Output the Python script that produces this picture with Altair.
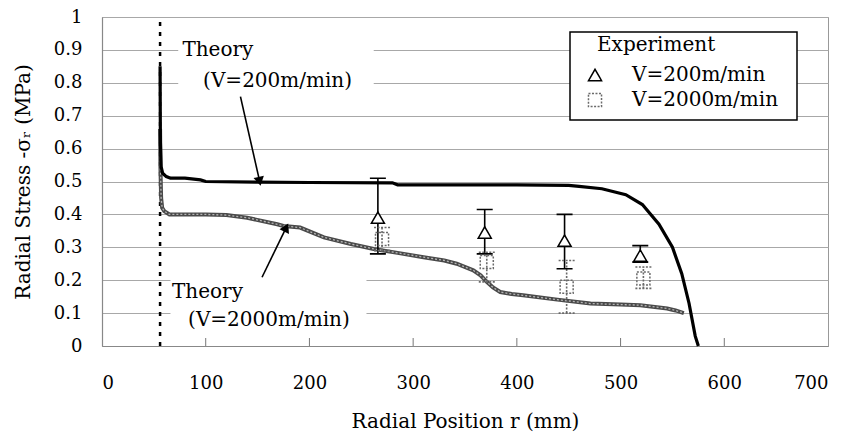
import altair as alt
import pandas as pd

# ---------------- data ----------------
# Theory curve, V=200 m/min (black)
t200_r = [56, 56.3, 57, 58.5, 62, 66, 80, 95, 100, 150, 200, 280, 285, 350, 400, 450,
          460, 482, 505, 521, 537, 550, 559, 566, 572, 575]
t200_s = [0.85, 0.62, 0.545, 0.525, 0.515, 0.51, 0.51, 0.505, 0.50, 0.498, 0.497, 0.496, 0.49,
          0.49, 0.49, 0.488, 0.485, 0.478, 0.46, 0.43, 0.37, 0.30, 0.22, 0.13, 0.03, 0.0]

# Theory curve, V=2000 m/min (grey)
t2000_r = [56, 56.3, 57, 58, 60, 65, 80, 100, 120, 140, 169, 175, 191, 214, 240, 262, 285, 310,
           330, 342, 358, 365, 371, 377, 384, 395, 406, 439, 471, 500, 519, 545, 553, 561]
t2000_s = [0.66, 0.55, 0.45, 0.42, 0.41, 0.40, 0.40, 0.40, 0.398, 0.39, 0.37, 0.365, 0.36, 0.33,
           0.31, 0.295, 0.283, 0.27, 0.26, 0.25, 0.23, 0.215, 0.195, 0.178, 0.164, 0.158, 0.154,
           0.141, 0.129, 0.126, 0.124, 0.114, 0.108, 0.10]

# Experiments
series_names = ["V=200m/min", "V=2000m/min"]
exp_series = ["V=200m/min"] * 4 + ["V=2000m/min"] * 4
exp_r = [266, 369, 446, 519, 270, 371, 448, 522]
exp_s = [0.39, 0.345, 0.32, 0.275, 0.325, 0.255, 0.18, 0.205]
exp_hi = [0.51, 0.415, 0.40, 0.305, 0.36, 0.285, 0.26, 0.24]
exp_lo = [0.28, 0.28, 0.235, 0.255, 0.29, 0.195, 0.10, 0.175]

x_ticks = [0, 100, 200, 300, 400, 500, 600, 700]
y_ticks = [0, 0.1, 0.2, 0.3, 0.4, 0.5, 0.6, 0.7, 0.8, 0.9, 1.0]
inner_radius = [56]

# annotations
ann_text = ["Theory", "(V=200m/min)", "Theory", "(V=2000m/min)"]
ann_r = [77.5, 97.5, 67.5, 83]
ann_s = [0.90, 0.805, 0.163, 0.079]

box_r1 = [73.5, 66]
box_r2 = [262, 255]
box_s1 = [0.75, 0.03]
box_s2 = [0.945, 0.235]

arrow_tail_r = [133.5, 154.3]
arrow_tail_s = [0.758, 0.209]
arrow_tip_r = [151.7, 177.0]
arrow_tip_s = [0.505, 0.356]
arrow_angle = [168, 26]

legend_title = ["Experiment"]

FONT = "DejaVu Serif"

# ---------------- frames ----------------
df200 = pd.DataFrame({"r": t200_r, "s": t200_s})
df2000 = pd.DataFrame({"r": t2000_r, "s": t2000_s})
dfexp = pd.DataFrame({"series": exp_series, "r": exp_r, "s": exp_s, "hi": exp_hi, "lo": exp_lo})
dfticks = pd.DataFrame({"r": x_ticks[1:-1]})
dfinner = pd.DataFrame({"r": inner_radius, "s0": [0.0], "s1": [1.0]})
dfann = pd.DataFrame({"t": ann_text, "r": ann_r, "s": ann_s})
dfbox = pd.DataFrame({"r1": box_r1, "r2": box_r2, "s1": box_s1, "s2": box_s2})
dfarrow = pd.DataFrame({"r": arrow_tail_r, "s": arrow_tail_s, "r2": arrow_tip_r,
                        "s2": arrow_tip_s, "a": arrow_angle})
dfone = pd.DataFrame({"t": legend_title})

xscale = alt.Scale(domain=[0, 700], nice=False, zero=False)
yscale = alt.Scale(domain=[0, 1], nice=False, zero=False)
xaxis = alt.Axis(values=x_ticks, grid=False, ticks=False, labelPadding=28, titlePadding=19,
                 title="Radial Position r  (mm)")
yaxis = alt.Axis(values=y_ticks, grid=True, ticks=False, format="~g", labelPadding=20,
                 titlePadding=20, title="Radial Stress -σᵣ (MPa)")


def X(f="r"):
    return alt.X(f + ":Q", scale=xscale, axis=xaxis)


def Y(f="s"):
    return alt.Y(f + ":Q", scale=yscale, axis=yaxis)


col_scale = alt.Scale(domain=series_names, range=["black", "#6a6a6a"])
dash_scale = alt.Scale(domain=series_names, range=[[10, 0], [2, 1.5]])
shape_scale = alt.Scale(domain=series_names, range=["triangle-up", "square"])
fill_scale = alt.Scale(domain=series_names, range=["white", "transparent"])

leg = alt.Legend(title=None, orient="none", legendX=483, legendY=48,
                 labelFont=FONT, labelFontSize=20, labelColor="black", labelOffset=27,
                 symbolSize=170, symbolStrokeWidth=1.5,
                 rowPadding=5, padding=0)

boxes = alt.Chart(dfbox).mark_rect(fill="white", stroke=None).encode(
    x=X("r1"), x2="r2:Q", y=Y("s1"), y2="s2:Q")

legend_box = alt.Chart(dfone).mark_rect(fill="white", stroke="black", strokeWidth=1.5).encode(
    x=alt.value(468), x2=alt.value(695), y=alt.value(15), y2=alt.value(103))
legend_head = alt.Chart(dfone).mark_text(align="left", baseline="middle", font=FONT,
                                         fontSize=20, color="black").encode(
    x=alt.value(495), y=alt.value(28), text="t:N")

inner = alt.Chart(dfinner).mark_rule(color="black", strokeWidth=2.5, strokeDash=[4, 6]).encode(
    x=X("r"), y=Y("s0"), y2="s1:Q")

ticks = alt.Chart(dfticks).mark_rule(color="#777", strokeWidth=1).encode(
    x=X("r"), y=alt.value(329), y2=alt.value(321))

line200 = alt.Chart(df200).mark_line(color="black", strokeWidth=3.2).encode(x=X(), y=Y())
line2000a = alt.Chart(df2000).mark_line(color="#4a4a4a", strokeWidth=4).encode(x=X(), y=Y())
line2000b = alt.Chart(df2000).mark_line(color="#b5b5b5", strokeWidth=1.3,
                                        strokeDash=[2, 2]).encode(x=X(), y=Y())


def enc_series():
    return dict(
        stroke=alt.Stroke("series:N", scale=col_scale, legend=leg),
        strokeDash=alt.StrokeDash("series:N", scale=dash_scale, legend=leg),
    )


errbars = alt.Chart(dfexp).mark_rule(strokeWidth=1.6).encode(
    x=X(), y=Y("lo"), y2="hi:Q", **enc_series())
cap_hi = alt.Chart(dfexp).mark_rule(strokeWidth=1.6, xOffset=-8, x2Offset=8).encode(
    x=X(), x2="r:Q", y=Y("hi"), **enc_series())
cap_lo = alt.Chart(dfexp).mark_rule(strokeWidth=1.6, xOffset=-8, x2Offset=8).encode(
    x=X(), x2="r:Q", y=Y("lo"), **enc_series())

markers = alt.Chart(dfexp).mark_point(filled=False, strokeWidth=1.5, size=170,
                                      opacity=1).encode(
    x=X(), y=Y(),
    shape=alt.Shape("series:N", scale=shape_scale, legend=leg),
    fill=alt.Fill("series:N", scale=fill_scale, legend=leg),
    **enc_series())

texts = alt.Chart(dfann).mark_text(align="left", baseline="middle", font=FONT, fontSize=20,
                                   color="black").encode(x=X(), y=Y(), text="t:N")

arrow_shaft = alt.Chart(dfarrow).mark_rule(color="black", strokeWidth=1.6).encode(
    x=X(), y=Y(), x2="r2:Q", y2="s2:Q")
arrow_head = alt.Chart(dfarrow).mark_point(shape="triangle", filled=True, color="black",
                                           size=110, opacity=1).encode(
    x=X("r2"), y=Y("s2"), angle=alt.Angle("a:Q", scale=None))

chart = alt.layer(
    boxes, legend_box, legend_head, inner, ticks, line2000a, line2000b, line200,
    errbars, cap_hi, cap_lo, markers, texts, arrow_shaft, arrow_head
).properties(
    width=726, height=329,
    autosize=alt.AutoSizeParams(type="none"),
    padding={"left": 94, "top": 9, "right": 12, "bottom": 88},
    background="white",
).configure_view(
    stroke="#999", strokeWidth=1
).configure_axis(
    labelFont=FONT, labelFontSize=18, labelColor="black",
    titleFont=FONT, titleFontSize=20, titleFontWeight="normal", titleColor="black",
    domainColor="#888", domainWidth=1.2, gridColor="#a8a8a8", gridWidth=1,
)

chart.save("out.html", embed_options={"renderer": "svg", "actions": False})
